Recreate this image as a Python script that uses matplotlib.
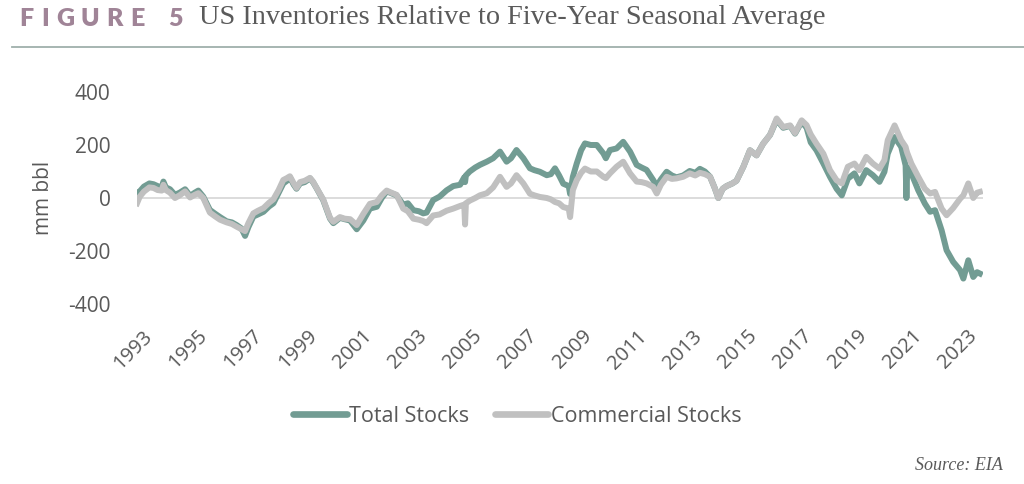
import matplotlib.pyplot as plt
from matplotlib.transforms import ScaledTranslation

# dates (decimal years) and values in mm bbl
years = [1993.00, 1993.10, 1993.25, 1993.45, 1993.60, 1993.75, 1993.90, 1993.96, 1994.05, 1994.20,
         1994.38, 1994.55, 1994.75, 1994.93, 1995.10, 1995.23, 1995.41, 1995.65, 1995.85, 1996.02,
         1996.26, 1996.45, 1996.62, 1996.80, 1996.93, 1997.05, 1997.23, 1997.40, 1997.60, 1997.80,
         1997.96, 1998.15, 1998.32, 1998.45, 1998.56, 1998.70, 1998.80, 1998.93, 1999.10, 1999.29,
         1999.40, 1999.53, 1999.77, 2000.02, 2000.14, 2000.38, 2000.55, 2000.75, 2000.99, 2001.23,
         2001.47, 2001.72, 2001.90, 2002.08, 2002.25, 2002.44, 2002.68, 2002.85, 2003.05, 2003.25,
         2003.41, 2003.53, 2003.77, 2004.00, 2004.26, 2004.50, 2004.75, 2004.90, 2004.93, 2004.96,
         2005.10, 2005.30, 2005.47, 2005.72, 2005.95, 2006.20, 2006.44, 2006.60, 2006.80, 2007.05,
         2007.29, 2007.45, 2007.65, 2007.90, 2008.05, 2008.20, 2008.35, 2008.50, 2008.70, 2008.75,
         2008.85, 2008.99, 2009.15, 2009.29, 2009.50, 2009.72, 2009.96, 2010.05, 2010.20, 2010.44,
         2010.68, 2010.93, 2011.17, 2011.35, 2011.53, 2011.77, 2011.90, 2012.05, 2012.26, 2012.45,
         2012.62, 2012.86, 2013.10, 2013.30, 2013.47, 2013.65, 2013.84, 2014.00, 2014.14, 2014.30,
         2014.44, 2014.65, 2014.80, 2015.05, 2015.29, 2015.53, 2015.77, 2016.02, 2016.26, 2016.50,
         2016.75, 2016.93, 2017.17, 2017.35, 2017.50, 2017.71, 2017.96, 2018.20, 2018.44, 2018.63,
         2018.85, 2019.09, 2019.27, 2019.52, 2019.76, 2020.00, 2020.18, 2020.30, 2020.55, 2020.79,
         2020.95, 2020.98, 2021.01, 2021.16, 2021.41, 2021.65, 2021.84, 2022.02, 2022.26, 2022.44,
         2022.68, 2022.93, 2023.05, 2023.23, 2023.41, 2023.55, 2023.65]

total_stocks = [20, 25, 43, 55, 52, 45, 40, 62, 40, 33,
                12, 20, 33, 8, 20, 28, 5, -45, -60, -72,
                -88, -92, -102, -115, -143, -110, -70, -62, -52, -32,
                -20, 20, 55, 65, 78, 50, 35, 55, 60, 74,
                60, 37, -8, -78, -95, -75, -80, -85, -118, -85,
                -40, -33, 0, 25, 18, 10, -25, -20, -46, -50,
                -58, -55, -8, 5, 29, 45, 50, 78, 60, 85,
                100, 115, 125, 137, 150, 175, 137, 150, 181, 150,
                112, 105, 99, 86, 90, 112, 85, 54, 45, 15,
                80, 130, 180, 206, 200, 200, 168, 150, 181, 187,
                212, 175, 125, 115, 106, 68, 45, 70, 99, 85,
                78, 85, 102, 95, 110, 100, 80, 40, 0, 35,
                45, 55, 65, 118, 180, 161, 205, 238, 295, 265,
                272, 243, 288, 265, 210, 180, 130, 80, 35, 10,
                73, 93, 55, 105, 86, 61, 99, 167, 230, 193,
                123, 0, 115, 93, 29, -21, -52, -46, -122, -197,
                -241, -272, -304, -235, -298, -280, -285]

commercial_stocks = [-20, 5, 24, 40, 38, 30, 28, 50, 30, 20,
                     0, 10, 25, 2, 12, 18, 0, -55, -70, -82,
                     -92, -98, -108, -118, -125, -95, -58, -48, -38, -18,
                     -5, 30, 68, 75, 82, 55, 38, 60, 65, 76,
                     62, 38, -5, -75, -90, -72, -78, -80, -102, -60,
                     -22, -15, 10, 28, 20, 12, -40, -50, -78, -82,
                     -87, -95, -66, -62, -48, -40, -30, -25, -100, -20,
                     -10, 0, 10, 18, 40, 80, 42, 55, 86, 55,
                     16, 10, 4, 0, -5, -15, -20, -34, -40, -72,
                     30, 67, 95, 111, 100, 100, 80, 75, 93, 118,
                     137, 93, 62, 60, 55, 42, 17, 50, 80, 72,
                     74, 80, 93, 85, 95, 90, 80, 40, 0, 35,
                     45, 55, 65, 118, 180, 161, 205, 238, 300, 268,
                     274, 245, 293, 275, 240, 205, 167, 105, 67, 55,
                     118, 130, 105, 155, 130, 111, 143, 218, 274, 218,
                     193, 180, 170, 130, 80, 35, 17, 23, -40, -65,
                     -38, -3, 10, 55, 0, 20, 23]

year_ticks = list(range(1993, 2024, 2))
value_ticks = [-400, -200, 0, 200, 400]

green = '#729c93'
grey = '#c0c0c0'
text_col = '#595959'
sans = 'Open Sans'

fig = plt.figure(figsize=(10.24, 4.84), dpi=100)

# title row: spaced-out "FIGURE 5" then the serif title
fig_letters = ['F', 'I', 'G', 'U', 'R', 'E', '5']
fig_letter_x = [19, 41, 56, 81, 106, 130, 168]
for ch, px in zip(fig_letters, fig_letter_x):
    fig.text(px / 1024, 1 - 19 / 484, ch, fontsize=18, fontweight='heavy',
             family='Lato', color='#a08497', va='center', ha='left')
fig.text(199 / 1024, 1 - 18 / 484, 'US Inventories Relative to Five-Year Seasonal Average',
         fontsize=20.3, family='Liberation Serif', color='#5a5a5a', va='center', ha='left')
fig.add_artist(plt.Line2D([12 / 1024, 1.0], [1 - 47 / 484, 1 - 47 / 484],
                          transform=fig.transFigure, color='#9fb0ab', lw=1.3))

ax = fig.add_axes([137 / 1024, 180 / 484, 845.6 / 1024, 212 / 484])
ax.axhline(0, color='#d9d9d9', lw=1.3, zorder=1)
ax.plot(years, total_stocks, color=green, lw=4.3, label='Total Stocks', zorder=2)
ax.plot(years, commercial_stocks, color=grey, lw=4.3, label='Commercial Stocks', zorder=3)

ax.set_xlim(1993.0, 2023.75)
ax.set_ylim(-400, 400)
for s in ax.spines.values():
    s.set_visible(False)

ax.set_yticks(value_ticks)
ax.set_yticklabels([str(v) for v in value_ticks], family=sans, fontsize=15, color=text_col)
ax.set_xticks(year_ticks)
ax.set_xticklabels([str(y) for y in year_ticks], family=sans, fontsize=14.5, color=text_col,
                   rotation=45, ha='right', va='top', rotation_mode='anchor')
ax.tick_params(axis='y', length=0, pad=19)
ax.tick_params(axis='x', length=0, pad=16)
for lab in ax.get_xticklabels():
    lab.set_transform(lab.get_transform() + ScaledTranslation(5 / 100, 0, fig.dpi_scale_trans))

ax.set_ylabel('mm bbl', family=sans, fontsize=15, color=text_col, labelpad=10)

leg = fig.legend(loc='center', bbox_to_anchor=(517 / 1024, 1 - 416 / 484), ncol=2,
                 frameon=False, prop={'family': sans, 'size': 15.5},
                 handlelength=2.5, handletextpad=0.1, columnspacing=1.2)
for t in leg.get_texts():
    t.set_color(text_col)
for h in leg.get_lines():
    h.set_linewidth(4.8)
    h.set_solid_capstyle('round')

fig.text(1003 / 1024, 1 - 465 / 484, 'Source: EIA', family='Liberation Serif', style='italic',
         fontsize=13, color='#5a5a5a', ha='right', va='center')

fig.savefig('out.png', dpi=100)
